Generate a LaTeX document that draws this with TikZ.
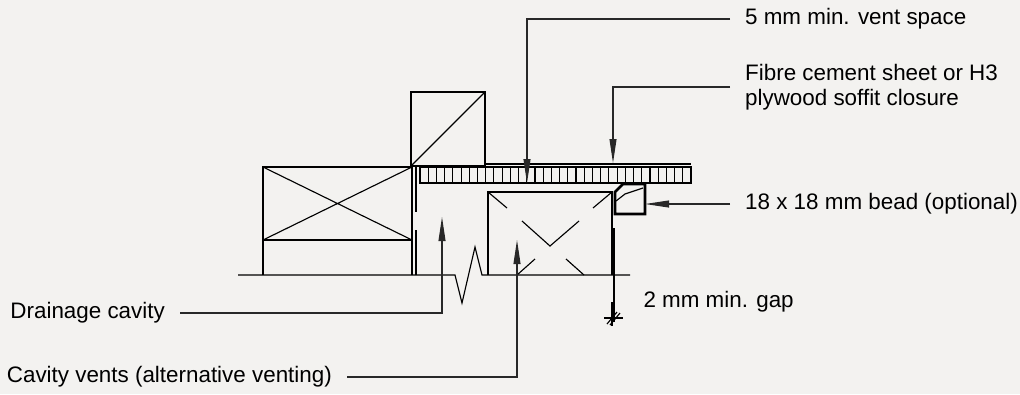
\documentclass[tikz,border=0pt]{standalone}
\usepackage{fontspec}
\setmainfont{Liberation Sans}
\usetikzlibrary{arrows.meta}
\definecolor{paper}{RGB}{243,242,240}
\definecolor{leadgray}{RGB}{40,40,40}
\tikzset{every picture/.style={line width=0.75pt}}
\tikzset{
  heavy/.style={line width=1.9pt},
  light/.style={line width=0.85pt},
  leader/.style={line width=0.8pt,draw=leadgray},
  pointer/.style={leader,-{Triangle[length=18pt,width=5.2pt]}},
  callout/.style={inner xsep=11pt,inner ysep=0pt,align=left,
    font=\fontsize{16.8pt}{18.8pt}\selectfont}
}

\begin{document}
\begin{tikzpicture}[x=0.75pt,y=0.75pt,yscale=-1,xscale=1]
	%set diagram frame
	\fill [paper] (0,0) rectangle (1020,394);
	\useasboundingbox (0,0) rectangle (1020,394);
	%Shape: Rectangle [left plate]
	\draw [heavy] (263,167) -- (412,167) -- (412,240) -- (263,240) -- cycle ;
	\draw [light] (263,167) -- (412,240) (263,240) -- (412,167) ;
	%Shape: Rectangle [upper square]
	\draw [heavy] (411,92) -- (485,92) -- (485,166) -- (411,166) -- cycle ;
	\draw [light] (411,166) -- (485,92) ;
	%Straight Lines [plate legs]
	\draw [light] (263,240) -- (263,275) ;
	\draw [heavy] (412,240) -- (412,275) ;
	\draw [light] (416,167) -- (416,212) (416,230) -- (416,275) ;
	%Straight Lines [ground with break]
	\draw [light] (238,275) -- (455,275) -- (462,303) -- (475,247) -- (482,275) -- (630,275) ;
	%Shape: Soffit sheet
	\draw [light] (485,164) -- (691,164) ;
	\draw [line width=1.4pt] (420,167) rectangle (691,183) ;
	\foreach \i in {1,...,32}
		\draw [light] ({420+\i*271/33},167) -- ({420+\i*271/33},183) ;
	%Shape: Rectangle [right plate]
	\draw [heavy] (488,275) -- (488,192) -- (612,192) -- (612,275) ;
	\draw [light] (488,192) -- (507,208) (593,208) -- (612,192) ;
	\draw [light] (522,221) -- (550,246) -- (579,221) ;
	\draw [light] (517,275) -- (535,259) (566,259) -- (584,275) ;
	%Shape: Bead
	\draw [heavy] (623,184) -- (645,184) -- (645,214) -- (615,214) -- (615,192) -- cycle ;
	\draw [light] (616,201) -- (625,194) -- (643,188) ;
	%Straight Lines [gap dimension]
	\draw [light] (614,228) -- (614,322) ;
	\draw [light] (612,302) -- (612,326) ;
	\draw [light] (604,318) -- (623,318) ;
	\draw [light] (607,324) -- (617,312) (610,325) -- (620,313) ;
	% Arrow tips
	\coordinate (ventTip) at (527,183);
	\coordinate (sheetTip) at (613,163);
	\coordinate (beadTip) at (645,204);
	\coordinate (drainTip) at (442,217);
	\coordinate (ventsTip) at (517,240);
	% Text Node
	\node (ventLbl) [callout,anchor=west] at (730,19) {5 mm min. vent space};
	% Text Node
	\node (sheetLbl) [callout,anchor=west] at (730,87) {Fibre cement sheet or H3\\plywood soffit closure};
	% Text Node
	\node (beadLbl) [callout,anchor=west] at (730,204) {18 x 18 mm bead (optional)};
	% Text Node
	\node (gapLbl) [callout,anchor=west,inner xsep=0pt] at (643,302) {2 mm min. gap};
	% Text Node
	\node (drainLbl) [callout,anchor=east] at (180,313) {Drainage cavity};
	% Text Node
	\node (ventsLbl) [callout,anchor=east] at (347,377) {Cavity vents (alternative venting)};
	%Leader lines
	\draw [pointer] (ventLbl.west) -| (ventTip) ;
	\draw [pointer] (sheetLbl.west) -| (sheetTip) ;
	\draw [pointer] (beadLbl.west) -- (beadTip) ;
	\draw [pointer] (drainLbl.east) -| (drainTip) ;
	\draw [pointer] (ventsLbl.east) -| (ventsTip) ;
\end{tikzpicture}
\end{document}
